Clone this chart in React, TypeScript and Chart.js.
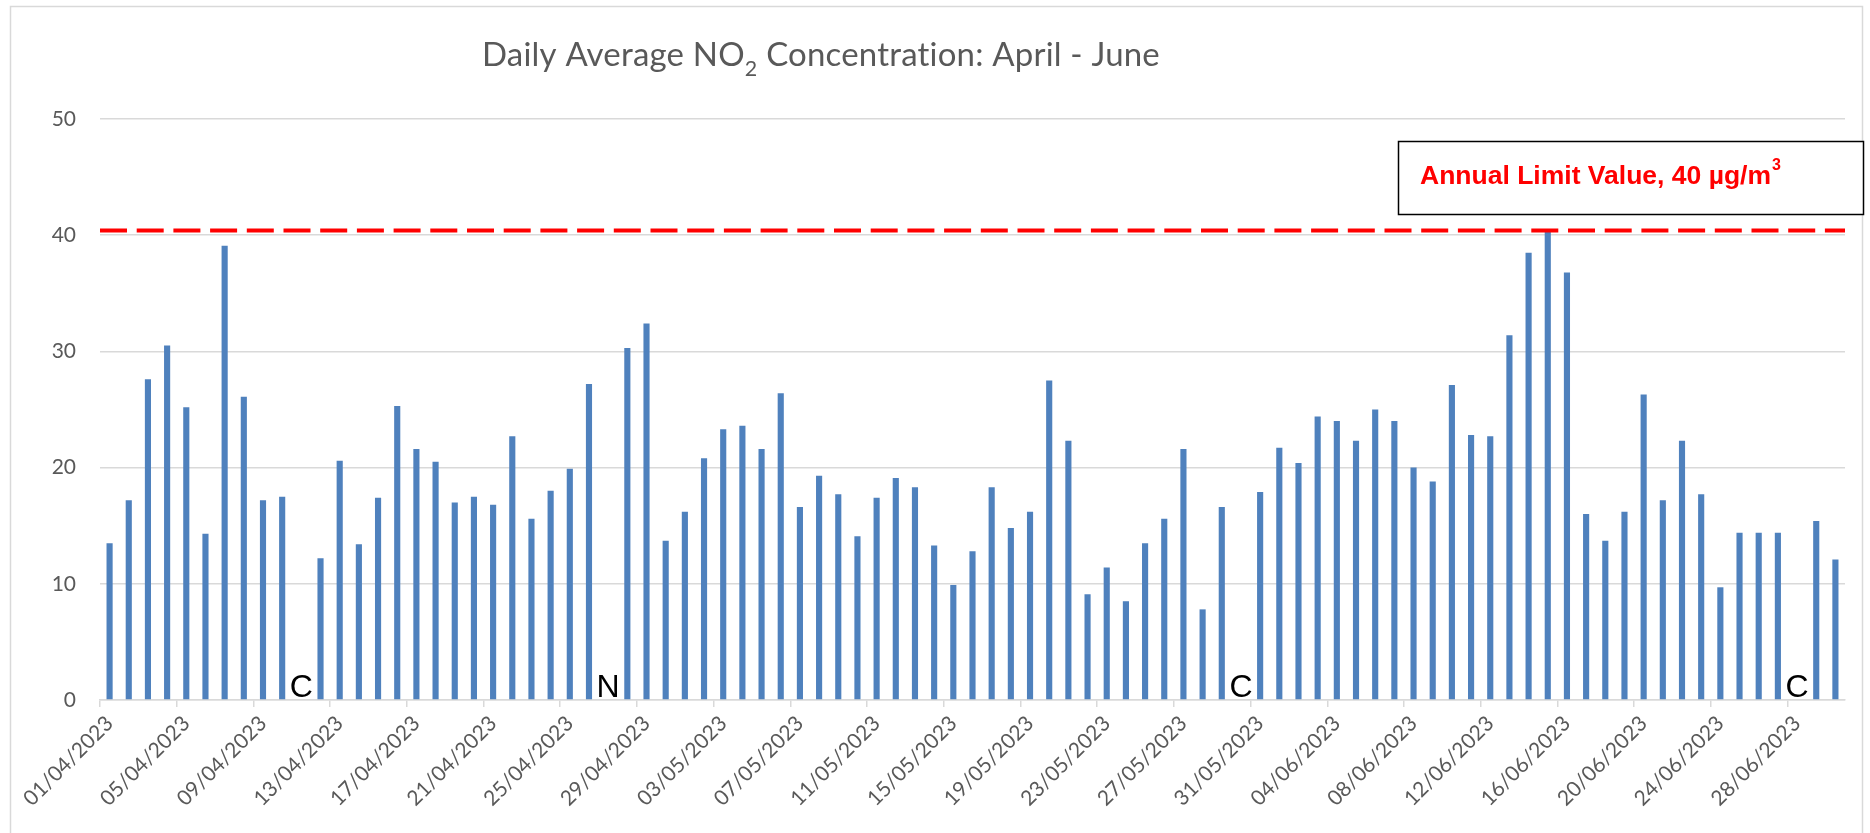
import React, { useEffect, useRef } from 'react';
import { Chart, registerables } from 'chart.js';

Chart.register(...registerables);

// ---- Categories (daily dates) ----
const aprilDates = [
  '01/04/2023', '02/04/2023', '03/04/2023', '04/04/2023', '05/04/2023', '06/04/2023', '07/04/2023', '08/04/2023',
  '09/04/2023', '10/04/2023', '11/04/2023', '12/04/2023', '13/04/2023', '14/04/2023', '15/04/2023', '16/04/2023',
  '17/04/2023', '18/04/2023', '19/04/2023', '20/04/2023', '21/04/2023', '22/04/2023', '23/04/2023', '24/04/2023',
  '25/04/2023', '26/04/2023', '27/04/2023', '28/04/2023', '29/04/2023', '30/04/2023',
];
const mayDates = [
  '01/05/2023', '02/05/2023', '03/05/2023', '04/05/2023', '05/05/2023', '06/05/2023', '07/05/2023', '08/05/2023',
  '09/05/2023', '10/05/2023', '11/05/2023', '12/05/2023', '13/05/2023', '14/05/2023', '15/05/2023', '16/05/2023',
  '17/05/2023', '18/05/2023', '19/05/2023', '20/05/2023', '21/05/2023', '22/05/2023', '23/05/2023', '24/05/2023',
  '25/05/2023', '26/05/2023', '27/05/2023', '28/05/2023', '29/05/2023', '30/05/2023', '31/05/2023',
];
const juneDates = [
  '01/06/2023', '02/06/2023', '03/06/2023', '04/06/2023', '05/06/2023', '06/06/2023', '07/06/2023', '08/06/2023',
  '09/06/2023', '10/06/2023', '11/06/2023', '12/06/2023', '13/06/2023', '14/06/2023', '15/06/2023', '16/06/2023',
  '17/06/2023', '18/06/2023', '19/06/2023', '20/06/2023', '21/06/2023', '22/06/2023', '23/06/2023', '24/06/2023',
  '25/06/2023', '26/06/2023', '27/06/2023', '28/06/2023', '29/06/2023', '30/06/2023',
];

// ---- Daily average NO2 (µg/m3); null = no data ----
const aprilValues = [
  13.5, 17.2, 27.6, 30.5, 25.2, 14.3, 39.1, 26.1, 17.2, 17.5, null, 12.2, 20.6, 13.4, 17.4, 25.3,
  21.6, 20.5, 17.0, 17.5, 16.8, 22.7, 15.6, 18.0, 19.9, 27.2, null, 30.3, 32.4, 13.7,
];
const mayValues = [
  16.2, 20.8, 23.3, 23.6, 21.6, 26.4, 16.6, 19.3, 17.7, 14.1, 17.4, 19.1, 18.3, 13.3, 9.9, 12.8,
  18.3, 14.8, 16.2, 27.5, 22.3, 9.1, 11.4, 8.5, 13.5, 15.6, 21.6, 7.8, 16.6, null, 17.9,
];
const juneValues = [
  21.7, 20.4, 24.4, 24.0, 22.3, 25.0, 24.0, 20.0, 18.8, 27.1, 22.8, 22.7, 31.4, 38.5, 40.5, 36.8,
  16.0, 13.7, 16.2, 26.3, 17.2, 22.3, 17.7, 9.7, 14.4, 14.4, 14.4, null, 15.4, 12.1,
];

// ---- Days without data and their codes ----
const gapDates = ['11/04/2023', '27/04/2023', '30/05/2023', '28/06/2023'];
const gapCodes = ['C', 'N', 'C', 'C'];

// ---- Y-axis ----
const yTicks = [0, 10, 20, 30, 40, 50];

// ---- Limit line ----
const limitLineValue = 40.4;
const limitText = 'Annual Limit Value, 40 µg/m';
const limitSup = '3';

const titleMain = 'Daily Average NO';
const titleSub = '2';
const titleRest = ' Concentration: April - June';

const categories = [...aprilDates, ...mayDates, ...juneDates];
const values = [...aprilValues, ...mayValues, ...juneValues];

const GRID = '#d9d9d9';
const TEXT = '#595959';
const FONT = 'Lato, "Open Sans", sans-serif';

const overlayPlugin = {
  id: 'overlay',
  beforeDraw(chart: any) {
    const ctx = chart.ctx;
    ctx.save();
    ctx.fillStyle = '#ffffff';
    ctx.fillRect(0, 0, chart.width, chart.height);
    ctx.restore();
  },
  afterDatasetsDraw(chart: any) {
    const { ctx, chartArea, scales } = chart;
    const xs = scales.x;
    const ys = scales.y;
    ctx.save();
    // limit line
    const ly = ys.getPixelForValue(limitLineValue);
    ctx.strokeStyle = '#ff0000';
    ctx.lineWidth = 4;
    ctx.setLineDash([27, 9.7]);
    ctx.beginPath();
    ctx.moveTo(chartArea.left, ly);
    ctx.lineTo(chartArea.right, ly);
    ctx.stroke();
    ctx.setLineDash([]);

    // gap codes
    ctx.fillStyle = '#000000';
    ctx.font = '32px "Liberation Sans", Arial, sans-serif';
    ctx.textAlign = 'center';
    ctx.textBaseline = 'alphabetic';
    const y0 = ys.getPixelForValue(0);
    gapDates.forEach((d, i) => {
      const idx = categories.indexOf(d);
      if (idx < 0) return;
      ctx.fillText(gapCodes[i], xs.getPixelForValue(idx), y0 - 3);
    });
    ctx.restore();
  },
  afterDraw(chart: any) {
    const { ctx } = chart;
    ctx.save();
    // outer border
    ctx.strokeStyle = GRID;
    ctx.lineWidth = 1.5;
    ctx.strokeRect(10.5, 6.5, 1852, 900);

    // annotation box
    ctx.fillStyle = '#ffffff';
    ctx.fillRect(1398, 141, 465, 73);
    ctx.strokeStyle = '#000000';
    ctx.lineWidth = 1.5;
    ctx.strokeRect(1398.5, 141.5, 465, 73);
    ctx.fillStyle = '#ff0000';
    ctx.textAlign = 'left';
    ctx.textBaseline = 'alphabetic';
    ctx.font = 'bold 26.5px "Liberation Sans", Arial, sans-serif';
    ctx.fillText(limitText, 1420, 184);
    const tw = ctx.measureText(limitText).width;
    ctx.font = 'bold 16px "Liberation Sans", Arial, sans-serif';
    ctx.fillText(limitSup, 1420 + tw + 1, 170);

    // title
    try {
      (ctx as any).letterSpacing = '0.2px';
    } catch (e) {
      /* ignore */
    }
    const targetW = 678;
    let size = 34;
    const measure = (s: number) => {
      ctx.font = `${s}px ${FONT}`;
      const a = ctx.measureText(titleMain).width + ctx.measureText(titleRest).width;
      ctx.font = `${s * 0.65}px ${FONT}`;
      return a + ctx.measureText(titleSub).width;
    };
    size = size * (targetW / measure(size));
    let x = 482;
    const base = 66;
    ctx.fillStyle = TEXT;
    ctx.font = `${size}px ${FONT}`;
    ctx.fillText(titleMain, x, base);
    x += ctx.measureText(titleMain).width;
    ctx.font = `${size * 0.65}px ${FONT}`;
    ctx.fillText(titleSub, x, base + size * 0.3);
    x += ctx.measureText(titleSub).width;
    ctx.font = `${size}px ${FONT}`;
    ctx.fillText(titleRest, x, base);
    ctx.restore();
  },
};

export default function App() {
  const canvasRef = useRef<HTMLCanvasElement | null>(null);

  useEffect(() => {
    if (!canvasRef.current) return;
    const chart = new Chart(canvasRef.current, {
      type: 'bar',
      data: {
        labels: categories,
        datasets: [
          {
            label: 'NO2',
            data: values as any,
            backgroundColor: '#4f81bd',
            barPercentage: 0.32,
            categoryPercentage: 1,
          },
        ],
      },
      options: {
        animation: false,
        responsive: false,
        devicePixelRatio: 1,
        layout: { padding: { top: 119, right: 25, left: 0, bottom: 0 } },
        plugins: {
          legend: { display: false },
          title: { display: false },
          tooltip: { enabled: false },
        },
        scales: {
          x: {
            offset: true,
            afterFit: (s: any) => {
              s.height = 133;
            },
            grid: {
              offset: true,
              display: true,
              drawOnChartArea: false,
              drawTicks: true,
              tickLength: 7,
              lineWidth: 1.5,
              color: (c: any) => (typeof c.index === 'number' && c.index % 4 === 0 ? GRID : 'rgba(0,0,0,0)'),
            },
            border: { display: true, color: GRID, width: 1.5 },
            ticks: {
              autoSkip: false,
              minRotation: 45,
              maxRotation: 45,
              padding: 4,
              color: TEXT,
              font: { family: FONT, size: 21 },
              callback: (_v: any, i: number) => (i % 4 === 0 ? categories[i] : ''),
            },
          },
          y: {
            min: 0,
            max: 50,
            afterFit: (s: any) => {
              s.width = 100;
            },
            afterBuildTicks: (s: any) => {
              s.ticks = yTicks.map((v) => ({ value: v }));
            },
            grid: { color: GRID, lineWidth: 1.5, drawTicks: false },
            border: { display: false },
            ticks: {
              padding: 24,
              color: TEXT,
              font: { family: FONT, size: 21 },
            },
          },
        },
      },
      plugins: [overlayPlugin],
    });
    return () => chart.destroy();
  }, []);

  return (
    <div style={{ position: 'fixed', left: 0, top: 0, width: 1870, height: 833, background: '#fff' }}>
      <canvas ref={canvasRef} width={1870} height={833} style={{ display: 'block' }} />
    </div>
  );
}
